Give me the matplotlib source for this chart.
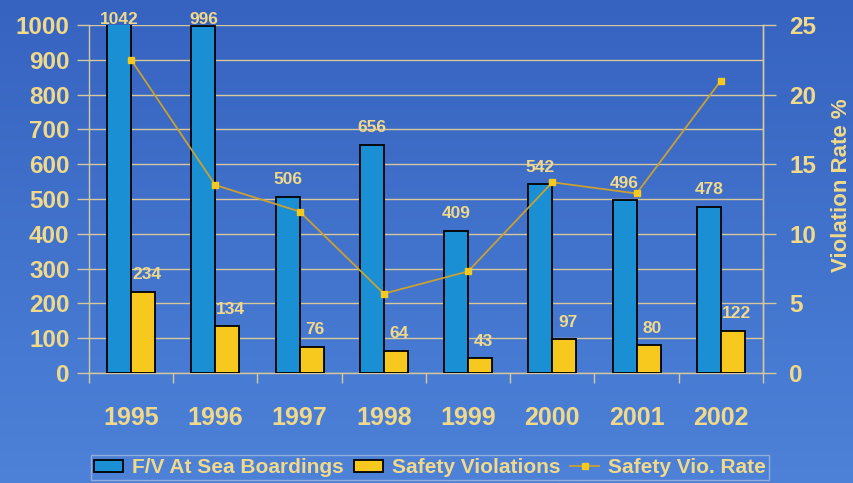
import numpy as np
import matplotlib.pyplot as plt
from matplotlib.colors import LinearSegmentedColormap

plt.rcParams['font.family'] = ['Liberation Sans', 'DejaVu Sans']

years = ['1995', '1996', '1997', '1998', '1999', '2000', '2001', '2002']
boardings = [1042, 996, 506, 656, 409, 542, 496, 478]
violations = [234, 134, 76, 64, 43, 97, 80, 122]
rate = [22.5, 13.5, 11.6, 5.7, 7.3, 13.7, 12.9, 21.0]

txt = '#F0D98A'
grid_c = '#D6C79C'
blue = '#1A8FD4'
yellow = '#F7C81E'
line_c = '#C9A032'

fig = plt.figure(figsize=(8.54, 4.83), dpi=100)

# background gradient
bg = fig.add_axes([0, 0, 1, 1], zorder=-10)
cmap = LinearSegmentedColormap.from_list('bg', ['#3663C0', '#4D82D8'])
bg.imshow(np.linspace(0, 1, 256).reshape(-1, 1), aspect='auto', cmap=cmap,
          extent=[0, 1, 0, 1])
bg.axis('off')

ax = fig.add_axes([0.1042, 0.2277, 0.7892, 0.7205])
ax.patch.set_alpha(0)
x = np.arange(len(years))
w = 0.285

b1 = ax.bar(x - w / 2, boardings, w, color=blue, edgecolor='black', lw=1.3,
            label='F/V At Sea Boardings', zorder=3)
b2 = ax.bar(x + w / 2, violations, w, color=yellow, edgecolor='black', lw=1.3,
            label='Safety Violations', zorder=3)

for xi, v in zip(x, boardings):
    ax.text(xi - w / 2, min(v + 49, 1015), str(v), ha='center', va='center',
            color=txt, fontsize=12.5, fontweight='bold', zorder=5,
            clip_on=False)
for xi, v in zip(x, violations):
    ax.text(xi + w / 2 + 0.04, v + 49, str(v), ha='center', va='center',
            color=txt, fontsize=12.5, fontweight='bold', zorder=5)

ax.set_xlim(-0.5, len(years) - 0.5)
ax.set_ylim(0, 1000)
ax.set_yticks(range(0, 1001, 100))
ax.grid(axis='y', color=grid_c, lw=1.0, zorder=1)
ax.set_xticks(x)
ax.set_xticklabels(years, color=txt, fontsize=18, fontweight='bold')
ax.set_xticks(np.arange(-0.5, len(years)), minor=True)
ax.tick_params(axis='x', which='major', length=0, pad=24)
ax.tick_params(axis='x', which='minor', length=7, color=grid_c, width=1.0)
ax.tick_params(axis='y', colors=txt, labelsize=17.5, length=9, width=1.0,
               color=grid_c, pad=5)
for t in ax.get_yticklabels():
    t.set_fontweight('bold')
ax.spines['top'].set_visible(False)
for s in ['left', 'bottom', 'right']:
    ax.spines[s].set_color(grid_c)
    ax.spines[s].set_linewidth(1.0)

ax2 = ax.twinx()
ax2.patch.set_alpha(0)
ln, = ax2.plot(x, rate, color=line_c, lw=1.3, marker='s', ms=5,
               mfc=yellow, mec=yellow, label='Safety Vio. Rate', zorder=6)
ax2.set_ylim(0, 25)
ax2.set_yticks(range(0, 26, 5))
ax2.tick_params(axis='y', colors=txt, labelsize=17.5, length=9, width=1.0,
                color=grid_c, pad=10)
for t in ax2.get_yticklabels():
    t.set_fontweight('bold')
for s in ['top', 'left', 'bottom']:
    ax2.spines[s].set_visible(False)
ax2.spines['right'].set_color(grid_c)
ax2.spines['right'].set_linewidth(1.0)
ax2.set_ylabel('Violation Rate %', color=txt, fontsize=16, fontweight='bold',
               va='center')
ax2.yaxis.set_label_coords(1.117, 0.54)

leg = fig.legend([b1, b2, ln], ['F/V At Sea Boardings', 'Safety Violations',
                                'Safety Vio. Rate'],
                 loc='lower center', bbox_to_anchor=(0.5035, 0.006), ncol=3,
                 frameon=True, fancybox=False,
                 prop={'weight': 'bold', 'size': 15},
                 handlelength=1.4, handleheight=0.5, handletextpad=0.42,
                 columnspacing=0.47, borderpad=0.15, borderaxespad=0.0,
                 labelcolor=txt)
leg.get_frame().set_facecolor('none')
leg.get_frame().set_edgecolor('#A6B8DA')

fig.savefig('out.png', dpi=100)
